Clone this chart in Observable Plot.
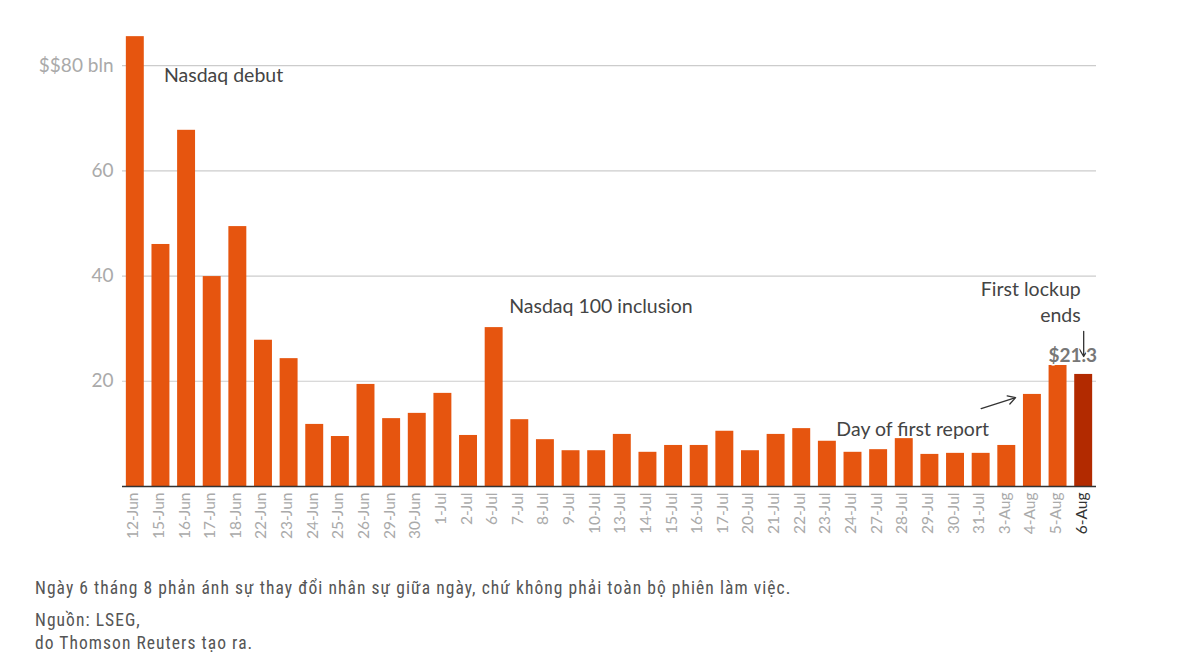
<!DOCTYPE html>
<html>
<head>
<meta charset="utf-8">
<script src="https://cdn.jsdelivr.net/npm/d3@7"></script>
<script src="https://cdn.jsdelivr.net/npm/@observablehq/plot@0.6"></script>
<style>
  body { margin: 0; background: #fff; font-family: Lato, "Noto Sans", sans-serif; }
  #chart svg { display: block; }
  .foot { padding-left: 35px; color: #555; font-family: "Liberation Sans Narrow", "Roboto Condensed", Lato, sans-serif; font-size: 17.5px; letter-spacing: 1.05px; }
  .foot p { margin: 0; line-height: 23px; }
</style>
</head>
<body>
<div id="chart"></div>
<div class="foot">
  <p style="margin-top:17px">Ngày 6 tháng 8 phản ánh sự thay đổi nhân sự giữa ngày, chứ không phải toàn bộ phiên làm việc.</p>
  <p style="margin-top:9px">Nguồn: LSEG,</p>
  <p>do Thomson Reuters tạo ra.</p>
</div>
<script>
const dates = ["12-Jun","15-Jun","16-Jun","17-Jun","18-Jun","22-Jun","23-Jun","24-Jun","25-Jun","26-Jun","29-Jun","30-Jun",
  "1-Jul","2-Jul","6-Jul","7-Jul","8-Jul","9-Jul","10-Jul","13-Jul","14-Jul","15-Jul","16-Jul","17-Jul","20-Jul","21-Jul",
  "22-Jul","23-Jul","24-Jul","27-Jul","28-Jul","29-Jul","30-Jul","31-Jul","3-Aug","4-Aug","5-Aug","6-Aug"];
const values = [85.5,46.0,67.7,39.9,49.4,27.8,24.3,11.8,9.5,19.4,12.9,13.9,
  17.7,9.7,30.2,12.7,8.9,6.8,6.8,9.9,6.5,7.8,7.8,10.5,6.8,9.9,
  11.0,8.6,6.5,7.0,9.1,6.1,6.3,6.3,7.8,17.5,23.0,21.3];
const highlightDate = "6-Aug";
const yTicks = [20, 40, 60, 80];

const noteTexts = ["Nasdaq debut", "Nasdaq 100 inclusion", "Day of first report", "First lockup\nends"];
const noteDates = ["15-Jun", "6-Jul", "23-Jul", "6-Aug"];
const noteValues = [78, 34.2, 10.8, 35.3];

const arrowFrom = [["31-Jul", 14.8], ["6-Aug", 29.5]];
const arrowTo = [["4-Aug", 17.9], ["6-Aug", 24.7]];

const data = dates.map((d, i) => ({date: d, value: values[i]}));
const notes = noteTexts.map((t, i) => ({text: t, date: noteDates[i], value: noteValues[i]}));
const arrows = arrowFrom.map((f, i) => ({x1: f[0], y1: f[1], x2: arrowTo[i][0], y2: arrowTo[i][1]}));

const noteStyle = {x: "date", y: "value", text: "text", fontSize: 19.5, fill: "#444"};

const chart = Plot.plot({
  width: 1194,
  height: 560,
  marginLeft: 122,
  marginRight: 98,
  marginTop: 23,
  marginBottom: 74,
  style: {fontFamily: "Lato, 'Noto Sans', sans-serif", background: "#fff"},
  x: {domain: dates, paddingInner: 0.3, paddingOuter: 0.15, round: false, axis: null},
  y: {domain: [0, 88]},
  marks: [
    Plot.ruleY(yTicks, {stroke: "#cccccc", strokeWidth: 1.2}),
    Plot.axisY(yTicks, {tickSize: 0, tickPadding: 9, fontSize: 19, fill: "#aaaaaa",
      tickFormat: d => d === 80 ? "$$80 bln" : String(d), label: null}),
    Plot.barY(data, {x: "date", y: "value", fill: d => d.date === highlightDate ? "#b22a00" : "#e6550f"}),
    Plot.ruleY([0], {stroke: "#333", strokeWidth: 1.5}),
    Plot.text(dates, {x: d => d, frameAnchor: "bottom", rotate: -90, textAnchor: "end", dy: 6, dx: 3,
      fontSize: 15.5, fill: d => d === highlightDate ? "#333" : "#aaaaaa"}),
    Plot.text(notes.slice(0, 1), {...noteStyle, textAnchor: "start", dx: 3}),
    Plot.text(notes.slice(1, 2), {...noteStyle, textAnchor: "start", dx: 15}),
    Plot.text(notes.slice(2, 3), {...noteStyle, textAnchor: "start", dx: 9}),
    Plot.text(notes.slice(3), {...noteStyle, textAnchor: "end", dx: -3, lineHeight: 1.3}),
    Plot.arrow(arrows.slice(0, 1), {x1: "x1", y1: "y1", x2: "x2", y2: "y2", stroke: "#333", strokeWidth: 1.3,
      headLength: 10, insetEnd: 17.6}),
    Plot.arrow(arrows.slice(1), {x1: "x1", y1: "y1", x2: "x2", y2: "y2", stroke: "#333", strokeWidth: 1.3,
      headLength: 10}),
    Plot.text(data.filter(d => d.date === highlightDate), {x: "date", y: 24.9, text: d => "$" + d.value,
      dx: -11, fontSize: 19, fontWeight: "bold", fill: "#777", stroke: "white", strokeWidth: 3})
  ]
});
document.getElementById("chart").append(chart);
</script>
</body>
</html>
